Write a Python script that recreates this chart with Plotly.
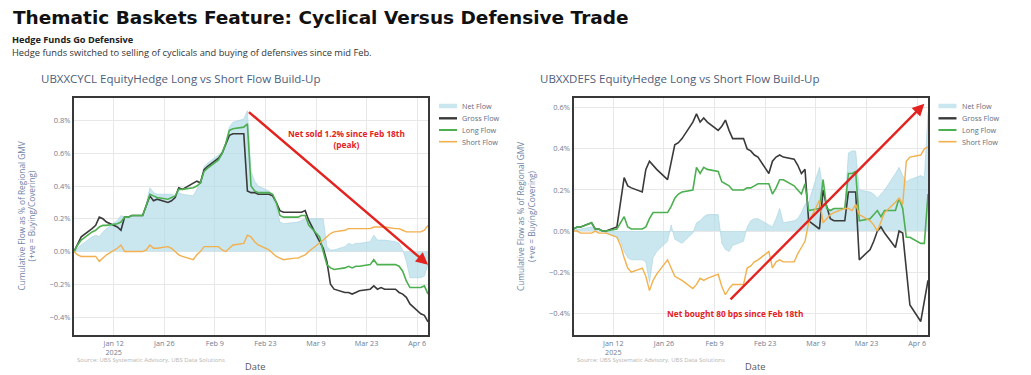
import pandas as pd
import plotly.graph_objects as go

# ---------------- data (values in % of regional GMV) ----------------
dates = pd.bdate_range("2025-01-01", "2025-04-09")

cycl_net = [0.00, 0.02, 0.04, 0.09, 0.10, 0.09, 0.12, 0.14, 0.19, 0.22,
            0.21, 0.21, 0.22, 0.22, 0.29, 0.39, 0.36, 0.35, 0.35, 0.35,
            0.34, 0.36, 0.35, 0.34, 0.38, 0.42, 0.52, 0.54, 0.59, 0.61,
            0.66, 0.76, 0.79, 0.81, 0.86, 0.49, 0.43, 0.40, 0.37, 0.34,
            0.27, 0.18, 0.17, 0.18, 0.18, 0.19, 0.20, 0.20, 0.20, 0.20,
            0.03, 0.01, 0.01, 0.03, 0.05, 0.04, 0.05, 0.05, 0.06, 0.10,
            0.07, 0.07, 0.07, 0.06, 0.05, 0.01, -0.06, -0.16, -0.16, -0.15,
            -0.08]
cycl_gross = [0.00, 0.05, 0.09, 0.14, 0.16, 0.21, 0.20, 0.18, 0.15, 0.13,
              0.21, 0.21, 0.22, 0.22, 0.28, 0.34, 0.31, 0.32, 0.30, 0.31,
              0.33, 0.39, 0.38, 0.42, 0.43, 0.42, 0.50, 0.52, 0.57, 0.60,
              0.66, 0.71, 0.72, 0.72, 0.37, 0.36, 0.36, 0.35, 0.35, 0.34,
              0.30, 0.25, 0.24, 0.24, 0.24, 0.24, 0.25, 0.19, 0.06, 0.02,
              -0.06, -0.20, -0.23, -0.25, -0.25, -0.26, -0.25, -0.24, -0.23, -0.21,
              -0.23, -0.22, -0.23, -0.23, -0.25, -0.26, -0.28, -0.32, -0.38, -0.39,
              -0.43]
cycl_long = [0.00, 0.04, 0.07, 0.12, 0.13, 0.15, 0.16, 0.16, 0.17, 0.18,
             0.21, 0.21, 0.22, 0.22, 0.28, 0.35, 0.34, 0.33, 0.32, 0.33,
             0.34, 0.38, 0.38, 0.39, 0.40, 0.42, 0.49, 0.51, 0.56, 0.60,
             0.66, 0.74, 0.75, 0.76, 0.78, 0.40, 0.37, 0.36, 0.36, 0.35,
             0.30, 0.22, 0.21, 0.21, 0.21, 0.22, 0.22, 0.16, 0.09, 0.00,
             -0.08, -0.10, -0.11, -0.10, -0.09, -0.10, -0.09, -0.09, -0.08, -0.05,
             -0.08, -0.08, -0.08, -0.08, -0.09, -0.12, -0.18, -0.22, -0.22, -0.21,
             -0.26]
cycl_short = [0.00, -0.02, -0.03, -0.03, -0.03, -0.06, -0.04, -0.02, 0.02, 0.04,
              0.00, 0.00, 0.00, 0.00, 0.01, 0.04, 0.02, 0.02, 0.03, 0.02,
              0.00, -0.02, -0.03, -0.05, -0.02, 0.00, 0.03, 0.03, 0.03, 0.01,
              0.00, 0.02, 0.04, 0.05, 0.10, 0.09, 0.06, 0.04, 0.01, -0.01,
              -0.03, -0.04, -0.05, -0.04, -0.04, -0.03, -0.02, 0.00, 0.05, 0.07,
              0.09, 0.11, 0.12, 0.13, 0.14, 0.14, 0.14, 0.14, 0.14, 0.15,
              0.15, 0.15, 0.15, 0.14, 0.14, 0.13, 0.12, 0.12, 0.12, 0.13,
              0.16]

defs_net = [0.00, 0.01, 0.01, 0.02, 0.01, 0.00, 0.00, -0.01, -0.03, -0.05,
            -0.10, -0.13, -0.14, -0.14, -0.15, -0.25, -0.13, -0.10, -0.05, 0.03,
            -0.04, -0.05, -0.06, -0.01, 0.04, 0.05, 0.07, 0.08, 0.08, -0.06,
            -0.09, -0.10, -0.07, -0.05, 0.02, 0.05, 0.06, 0.06, 0.03, 0.02,
            0.06, 0.11, 0.04, 0.05, 0.06, 0.09, 0.13, 0.14, 0.31, 0.20,
            0.12, 0.10, 0.11, 0.11, 0.38, 0.39, 0.39, 0.20, 0.19, 0.18,
            0.16, 0.18, 0.20, 0.28, 0.31, 0.27, 0.24, 0.25, 0.27, 0.26,
            0.58]
defs_gross = [0.01, 0.02, 0.02, 0.04, 0.01, 0.01, 0.00, 0.00, 0.02, 0.14,
              0.26, 0.22, 0.21, 0.19, 0.30, 0.34, 0.32, 0.30, 0.25, 0.33,
              0.42, 0.43, 0.45, 0.53, 0.57, 0.53, 0.55, 0.53, 0.49, 0.51,
              0.54, 0.49, 0.45, 0.45, 0.40, 0.39, 0.37, 0.36, 0.28, 0.34,
              0.36, 0.37, 0.36, 0.35, 0.32, 0.28, 0.30, 0.05, 0.01, 0.20,
              0.12, 0.06, 0.05, 0.05, 0.19, 0.19, 0.19, -0.14, -0.09, -0.05,
              0.00, 0.02, -0.01, -0.08, 0.00, -0.01, -0.20, -0.36, -0.44, -0.34,
              -0.24]
defs_long = [0.01, 0.02, 0.02, 0.04, 0.01, 0.01, 0.00, 0.00, 0.01, 0.04,
             0.07, 0.02, 0.01, 0.01, 0.02, 0.06, 0.09, 0.09, 0.09, 0.12,
             0.16, 0.18, 0.19, 0.20, 0.31, 0.28, 0.31, 0.30, 0.29, 0.24,
             0.23, 0.22, 0.20, 0.20, 0.21, 0.21, 0.22, 0.23, 0.23, 0.18,
             0.21, 0.25, 0.25, 0.22, 0.20, 0.18, 0.23, 0.10, 0.11, 0.25,
             0.11, 0.10, 0.11, 0.11, 0.28, 0.28, 0.29, 0.05, 0.06, 0.08,
             0.10, 0.07, 0.10, 0.10, 0.16, 0.11, -0.03, -0.03, -0.06, -0.06,
             0.18]
defs_short = [0.00, 0.00, -0.01, -0.01, 0.00, -0.01, -0.01, -0.01, -0.03, -0.07,
              -0.13, -0.18, -0.20, -0.18, -0.22, -0.29, -0.24, -0.21, -0.14, -0.18,
              -0.22, -0.23, -0.24, -0.28, -0.26, -0.23, -0.24, -0.23, -0.21, -0.27,
              -0.31, -0.28, -0.26, -0.26, -0.18, -0.17, -0.15, -0.14, -0.10, -0.18,
              -0.15, -0.14, -0.15, -0.15, -0.11, -0.08, -0.05, 0.04, 0.15, 0.04,
              0.06, 0.08, 0.09, 0.11, 0.11, 0.10, 0.13, 0.08, 0.05, 0.03,
              0.00, 0.05, 0.09, 0.14, 0.16, 0.13, 0.34, 0.36, 0.37, 0.40,
              0.41]

series_names = ["Net Flow", "Gross Flow", "Long Flow", "Short Flow"]
panel_titles = ["UBXXCYCL EquityHedge Long vs Short Flow Build-Up",
                "UBXXDEFS EquityHedge Long vs Short Flow Build-Up"]
peak_date = "2025-02-18"
defs_arrow_start = ("2025-02-13", -0.34)
defs_arrow_end = ("2025-04-08", 0.62)

# ---------------- styling ----------------
# page body has an 8px default margin: the figure is sized to fill the rest
OFF = 8
W, H = 1031 - OFF, 375 - OFF
def px(x):
    return (x - OFF) / W
def py(y):
    return 1 - (y - OFF) / H

NET_FILL = "rgba(173,216,230,0.65)"
NET_LINE = "rgba(160,208,224,0.9)"
GROSS = "#3a3a3a"
LONG = "#4caf50"
SHORT = "#f2b04e"
RED = "#e3231f"
FONT = "Open Sans"

fig = go.Figure()

panels = [
    (dates, cycl_net, cycl_gross, cycl_long, cycl_short, "x", "y"),
    (dates, defs_net, defs_gross, defs_long, defs_short, "x2", "y2"),
]
for d, net, gross, lng, sht, xa, ya in panels:
    fig.add_trace(go.Scatter(x=d, y=net, name="Net Flow", mode="lines", fill="tozeroy",
                             fillcolor=NET_FILL, line=dict(color=NET_LINE, width=0.6),
                             showlegend=False, xaxis=xa, yaxis=ya))
    fig.add_trace(go.Scatter(x=d, y=gross, name="Gross Flow", mode="lines",
                             line=dict(color=GROSS, width=1.6),
                             showlegend=False, xaxis=xa, yaxis=ya))
    fig.add_trace(go.Scatter(x=d, y=lng, name="Long Flow", mode="lines",
                             line=dict(color=LONG, width=1.6),
                             showlegend=False, xaxis=xa, yaxis=ya))
    fig.add_trace(go.Scatter(x=d, y=sht, name="Short Flow", mode="lines",
                             line=dict(color=SHORT, width=1.4),
                             showlegend=False, xaxis=xa, yaxis=ya))

xcommon = dict(range=["2025-01-01", "2025-04-09"], showgrid=True, gridcolor="#e8e8e8",
               gridwidth=1, showline=True, linecolor="#383838", linewidth=2, mirror=True,
               ticks="", tick0="2025-01-12", dtick=14 * 86400000,
               tickfont=dict(family=FONT, size=7.2, color="#6f7d93"), zeroline=False)
ycommon = dict(showgrid=True, gridcolor="#e8e8e8", gridwidth=1, showline=True,
               linecolor="#383838", linewidth=2, mirror=True, ticks="", dtick=0.2,
               tickformat=".1f", ticksuffix="%", zeroline=False,
               tickfont=dict(family=FONT, size=7.5, color="#6f7d93"))

ydom = [py(335), py(97.7)]
fig.update_layout(
    width=W, height=H, autosize=False,
    margin=dict(l=0, r=0, t=0, b=0),
    paper_bgcolor="white", plot_bgcolor="white",
    font=dict(family=FONT),
    showlegend=False,
    xaxis=dict(domain=[px(74), px(428)], anchor="y", **xcommon),
    yaxis=dict(domain=ydom, anchor="x", range=[-0.51, 0.94], **ycommon),
    xaxis2=dict(domain=[px(573.5), px(928)], anchor="y2", **xcommon),
    yaxis2=dict(domain=ydom, anchor="x2", range=[-0.506, 0.649], **ycommon),
)

ann = []
# headline texts
ann.append(dict(x=px(11), y=py(17), xref="paper", yref="paper", xanchor="left", yanchor="middle",
                text="<b>Thematic Baskets Feature: Cyclical Versus Defensive Trade</b>",
                showarrow=False, font=dict(family="DejaVu Sans", size=18.5, color="#111111")))
ann.append(dict(x=px(10), y=py(40), xref="paper", yref="paper", xanchor="left", yanchor="middle",
                text="<b>Hedge Funds Go Defensive</b>", showarrow=False,
                font=dict(family=FONT, size=9.2, color="#222222")))
ann.append(dict(x=px(10), y=py(52.5), xref="paper", yref="paper", xanchor="left", yanchor="middle",
                text="Hedge funds switched to selling of cyclicals and buying of defensives since mid Feb.",
                showarrow=False, font=dict(family=FONT, size=9.3, color="#333333")))

for i, (x0, title) in enumerate(zip([39, 537.5], panel_titles)):
    off = 0 if i == 0 else 499.5
    ann.append(dict(x=px(x0), y=py(78), xref="paper", yref="paper", xanchor="left", yanchor="middle",
                    text=title, showarrow=False, font=dict(family=FONT, size=11.5, color="#4e5d7a")))
    ann.append(dict(x=px(26 + off), y=py(216.5), xref="paper", yref="paper", xanchor="center",
                    yanchor="middle", textangle=-90,
                    text="Cumulative Flow as % of Regional GMV<br>(+ve = Buying/Covering)",
                    showarrow=False, font=dict(family=FONT, size=8.3, color="#7083a6")))
    ann.append(dict(x=px(75 + off), y=py(360), xref="paper", yref="paper", xanchor="left",
                    yanchor="middle", text="Source: UBS Systematic Advisory, UBS Data Solutions",
                    showarrow=False, font=dict(family=FONT, size=6.0, color="#b5b5b5")))
    ann.append(dict(x=px(255 + off), y=py(366), xref="paper", yref="paper", xanchor="center",
                    yanchor="middle", text="Date", showarrow=False,
                    font=dict(family=FONT, size=9.3, color="#555555")))
    # legend drawn by hand to match the compact spacing of the reference
    legend_y = [106, 118.3, 130, 141.7]
    styles = [(NET_FILL, 4.5), (GROSS, 2.4), (LONG, 2.0), (SHORT, 1.6)]
    for name, ly, (col, lw) in zip(series_names, legend_y, styles):
        fig.add_shape(type="line", xref="paper", yref="paper",
                      x0=px(439 + off), x1=px(457 + off), y0=py(ly), y1=py(ly),
                      line=dict(color=col, width=lw))
        ann.append(dict(x=px(460 + off), y=py(ly), xref="paper", yref="paper", xanchor="left",
                        yanchor="middle", text=name, showarrow=False,
                        font=dict(family=FONT, size=7.3, color="#5f6b80")))

# arrows
peak_idx = list(dates.strftime("%Y-%m-%d")).index(peak_date)
ann.append(dict(x=dates[-1], y=cycl_net[-1], xref="x", yref="y",
                ax=dates[peak_idx], ay=cycl_net[peak_idx], axref="x", ayref="y",
                text="", showarrow=True, arrowhead=2, arrowsize=1, arrowwidth=2.4, arrowcolor=RED))
ann.append(dict(x=px(346), y=py(139), xref="paper", yref="paper", xanchor="center", yanchor="middle",
                text="<b>Net sold 1.2% since Feb 18th<br>(peak)</b>", showarrow=False,
                font=dict(family=FONT, size=8.3, color=RED)))
ann.append(dict(x=defs_arrow_end[0], y=defs_arrow_end[1], xref="x2", yref="y2",
                ax=defs_arrow_start[0], ay=defs_arrow_start[1], axref="x2", ayref="y2",
                text="", showarrow=True, arrowhead=2, arrowsize=1, arrowwidth=2.4, arrowcolor=RED))
ann.append(dict(x=px(735), y=py(313), xref="paper", yref="paper", xanchor="center", yanchor="middle",
                text="<b>Net bought 80 bps since Feb 18th</b>", showarrow=False,
                font=dict(family=FONT, size=8.3, color=RED)))

fig.update_layout(annotations=ann)
fig.write_html("out.html")
